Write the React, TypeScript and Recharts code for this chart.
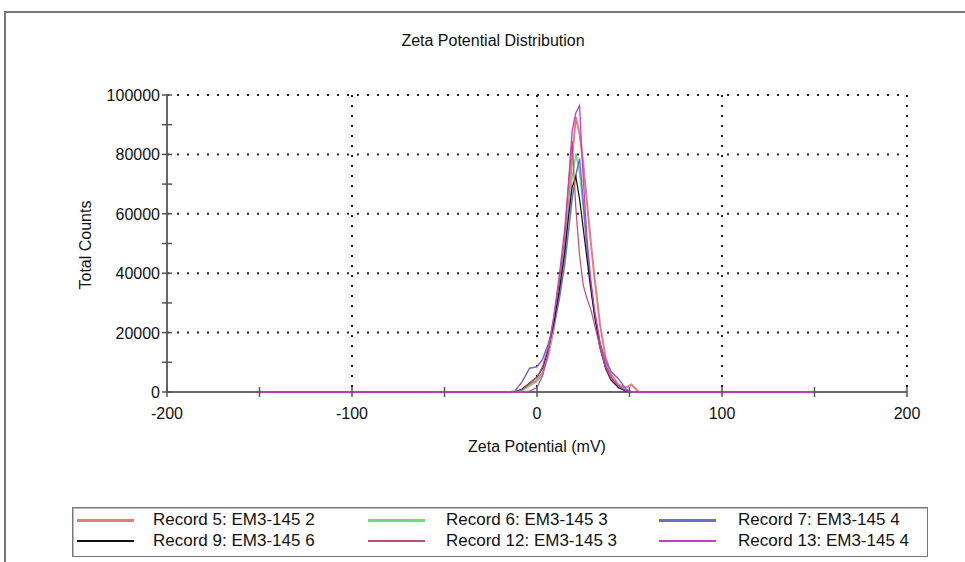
import { LineChart, Line, XAxis, YAxis, CartesianGrid } from "recharts";

// zeta potential (mV) sample points shared by every record
const zeta = [-150, -16, -12, -8, -4, 0, 3, 6, 9, 12, 15, 17, 19, 21, 23, 25, 27, 29, 31, 34, 37, 40, 44, 48, 51, 55, 150];

const record5 = [0, 0, 0, 800, 2500, 4000, 6500, 12000, 21000, 33000, 48000, 62000, 79000, 92500, 87000, 77000, 64000, 51000, 39000, 23000, 12000, 6000, 2500, 1500, 2500, 0, 0];
const record6 = [0, 0, 0, 500, 2000, 3500, 6000, 12500, 22000, 35000, 49000, 60000, 72000, 80300, 74000, 62000, 48000, 36000, 27000, 16000, 9000, 4500, 1500, 500, 0, 0, 0];
const record7 = [0, 0, 300, 3500, 8000, 8500, 11000, 16000, 22000, 31000, 43000, 54000, 65000, 73000, 78600, 64000, 49000, 37000, 27000, 16500, 10500, 7000, 4500, 1000, 0, 0, 0];
const record9 = [0, 0, 0, 1000, 3000, 5000, 8000, 14000, 23000, 34000, 47000, 59000, 69000, 72500, 65000, 55000, 45000, 35000, 26000, 15000, 8000, 4000, 1500, 300, 0, 0, 0];
const record12 = [0, 0, 0, 800, 3000, 5000, 8500, 15000, 25000, 37000, 52000, 70000, 84500, 62000, 46000, 36000, 31500, 28000, 23000, 15000, 8500, 4500, 2000, 500, 0, 0, 0];
const record13 = [0, 0, 0, 0, 300, 1500, 5500, 13000, 25000, 39000, 55000, 70000, 88000, 94000, 96500, 72000, 52000, 38000, 28000, 17000, 9500, 5000, 2000, 600, 0, 0, 0];

const xTicks = [-200, -150, -100, -50, 0, 50, 100, 150, 200];
const yTicks = [0, 10000, 20000, 30000, 40000, 50000, 60000, 70000, 80000, 90000, 100000];
const gridX = [-100, 0, 100, 200];
const gridY = [20000, 40000, 60000, 80000, 100000];

const series = [
  { key: "r5", name: "Record 5: EM3-145 2", values: record5, color: "#e47c7c", width: 2, legendWidth: 3 },
  { key: "r6", name: "Record 6: EM3-145 3", values: record6, color: "#6fdc78", width: 1.5, legendWidth: 3 },
  { key: "r7", name: "Record 7: EM3-145 4", values: record7, color: "#6d6dd6", width: 1.5, legendWidth: 3 },
  { key: "r9", name: "Record 9: EM3-145 6", values: record9, color: "#111111", width: 1.2, legendWidth: 1.5 },
  { key: "r12", name: "Record 12: EM3-145 3", values: record12, color: "#c04a78", width: 1.2, legendWidth: 1.5 },
  { key: "r13", name: "Record 13: EM3-145 4", values: record13, color: "#c83cc8", width: 1.3, legendWidth: 1.5 },
];

const data = zeta.map((x, i) => {
  const row: Record<string, number> = { x };
  series.forEach((s) => (row[s.key] = s.values[i]));
  return row;
});

const FONT = "'Liberation Sans', Arial, sans-serif";

const XTick = ({ x, y, payload }: any) => {
  const major = payload.value % 100 === 0;
  return (
    <g>
      <line x1={x} y1={y - 5} x2={x} y2={y + 5} stroke="#555" strokeWidth={1.5} />
      {major && (
        <text x={x} y={y + 27} textAnchor="middle" fontSize={16} fill="#111" fontFamily={FONT}>
          {payload.value}
        </text>
      )}
    </g>
  );
};

const YTick = ({ x, y, payload }: any) => {
  const major = payload.value % 20000 === 0;
  return (
    <g>
      <line x1={x - 5} y1={y} x2={x + 5} y2={y} stroke="#555" strokeWidth={1.5} />
      {major && (
        <text x={x - 7} y={y + 6} textAnchor="end" fontSize={16} fill="#111" fontFamily={FONT}>
          {payload.value}
        </text>
      )}
    </g>
  );
};

const legendCols = [
  { line: 77, text: 153 },
  { line: 368, text: 446 },
  { line: 659, text: 738 },
];

export default function App() {
  return (
    <div
      style={{
        position: "absolute",
        left: 0,
        top: 0,
        width: 965,
        height: 562,
        background: "#fff",
        fontFamily: FONT,
        color: "#111",
        overflow: "hidden",
      }}
    >
      <div
        style={{
          position: "absolute",
          left: 4,
          top: 11,
          width: 980,
          height: 570,
          borderTop: "2px solid #777",
          borderLeft: "2px solid #777",
        }}
      />
      <div style={{ position: "absolute", left: 0, width: 986, top: 32, textAlign: "center", fontSize: 16 }}>
        Zeta Potential Distribution
      </div>
      <div
        style={{
          position: "absolute",
          left: 86,
          top: 245,
          fontSize: 16,
          whiteSpace: "nowrap",
          transform: "translate(-50%, -50%) rotate(-90deg)",
        }}
      >
        Total Counts
      </div>
      <div style={{ position: "absolute", left: 0, width: 1074, top: 438, textAlign: "center", fontSize: 16 }}>
        Zeta Potential (mV)
      </div>

      <div style={{ position: "absolute", left: 0, top: 0 }}>
        <LineChart width={965} height={562} data={data} margin={{ top: 95, right: 58, bottom: 140, left: 107 }}>
          <CartesianGrid
            horizontalValues={gridY}
            verticalValues={gridX}
            stroke="#222"
            strokeWidth={2}
            strokeDasharray="2 8"
          />
          <XAxis
            dataKey="x"
            type="number"
            domain={[-200, 200]}
            ticks={xTicks}
            interval={0}
            height={30}
            tickLine={false}
            tickSize={0}
            tickMargin={0}
            axisLine={{ stroke: "#666", strokeWidth: 2 }}
            tick={<XTick />}
            zIndex={300}
          />
          <YAxis
            type="number"
            domain={[0, 100000]}
            ticks={yTicks}
            interval={0}
            width={60}
            tickLine={false}
            tickSize={0}
            tickMargin={0}
            axisLine={{ stroke: "#666", strokeWidth: 2 }}
            tick={<YTick />}
            zIndex={300}
          />
          {series.map((s) => (
            <Line
              key={s.key}
              dataKey={s.key}
              name={s.name}
              type="linear"
              stroke={s.color}
              strokeWidth={s.width}
              dot={false}
              isAnimationActive={false}
            />
          ))}
        </LineChart>
      </div>

      <div
        style={{
          position: "absolute",
          left: 72,
          top: 507,
          width: 854,
          height: 48,
          border: "1px solid #777",
          boxShadow: "inset 1px 1px 0 #bbb",
        }}
      />
      {series.map((s, i) => {
        const col = legendCols[i % 3];
        const cy = i < 3 ? 520 : 541;
        return (
          <div key={"lg" + s.key}>
            <div
              style={{
                position: "absolute",
                left: col.line,
                top: cy - s.legendWidth / 2,
                width: 57,
                height: s.legendWidth,
                background: s.color,
              }}
            />
            <div
              style={{
                position: "absolute",
                left: col.text,
                top: cy - 10,
                fontSize: 17,
                lineHeight: "20px",
                whiteSpace: "nowrap",
              }}
            >
              {s.name}
            </div>
          </div>
        );
      })}
    </div>
  );
}
